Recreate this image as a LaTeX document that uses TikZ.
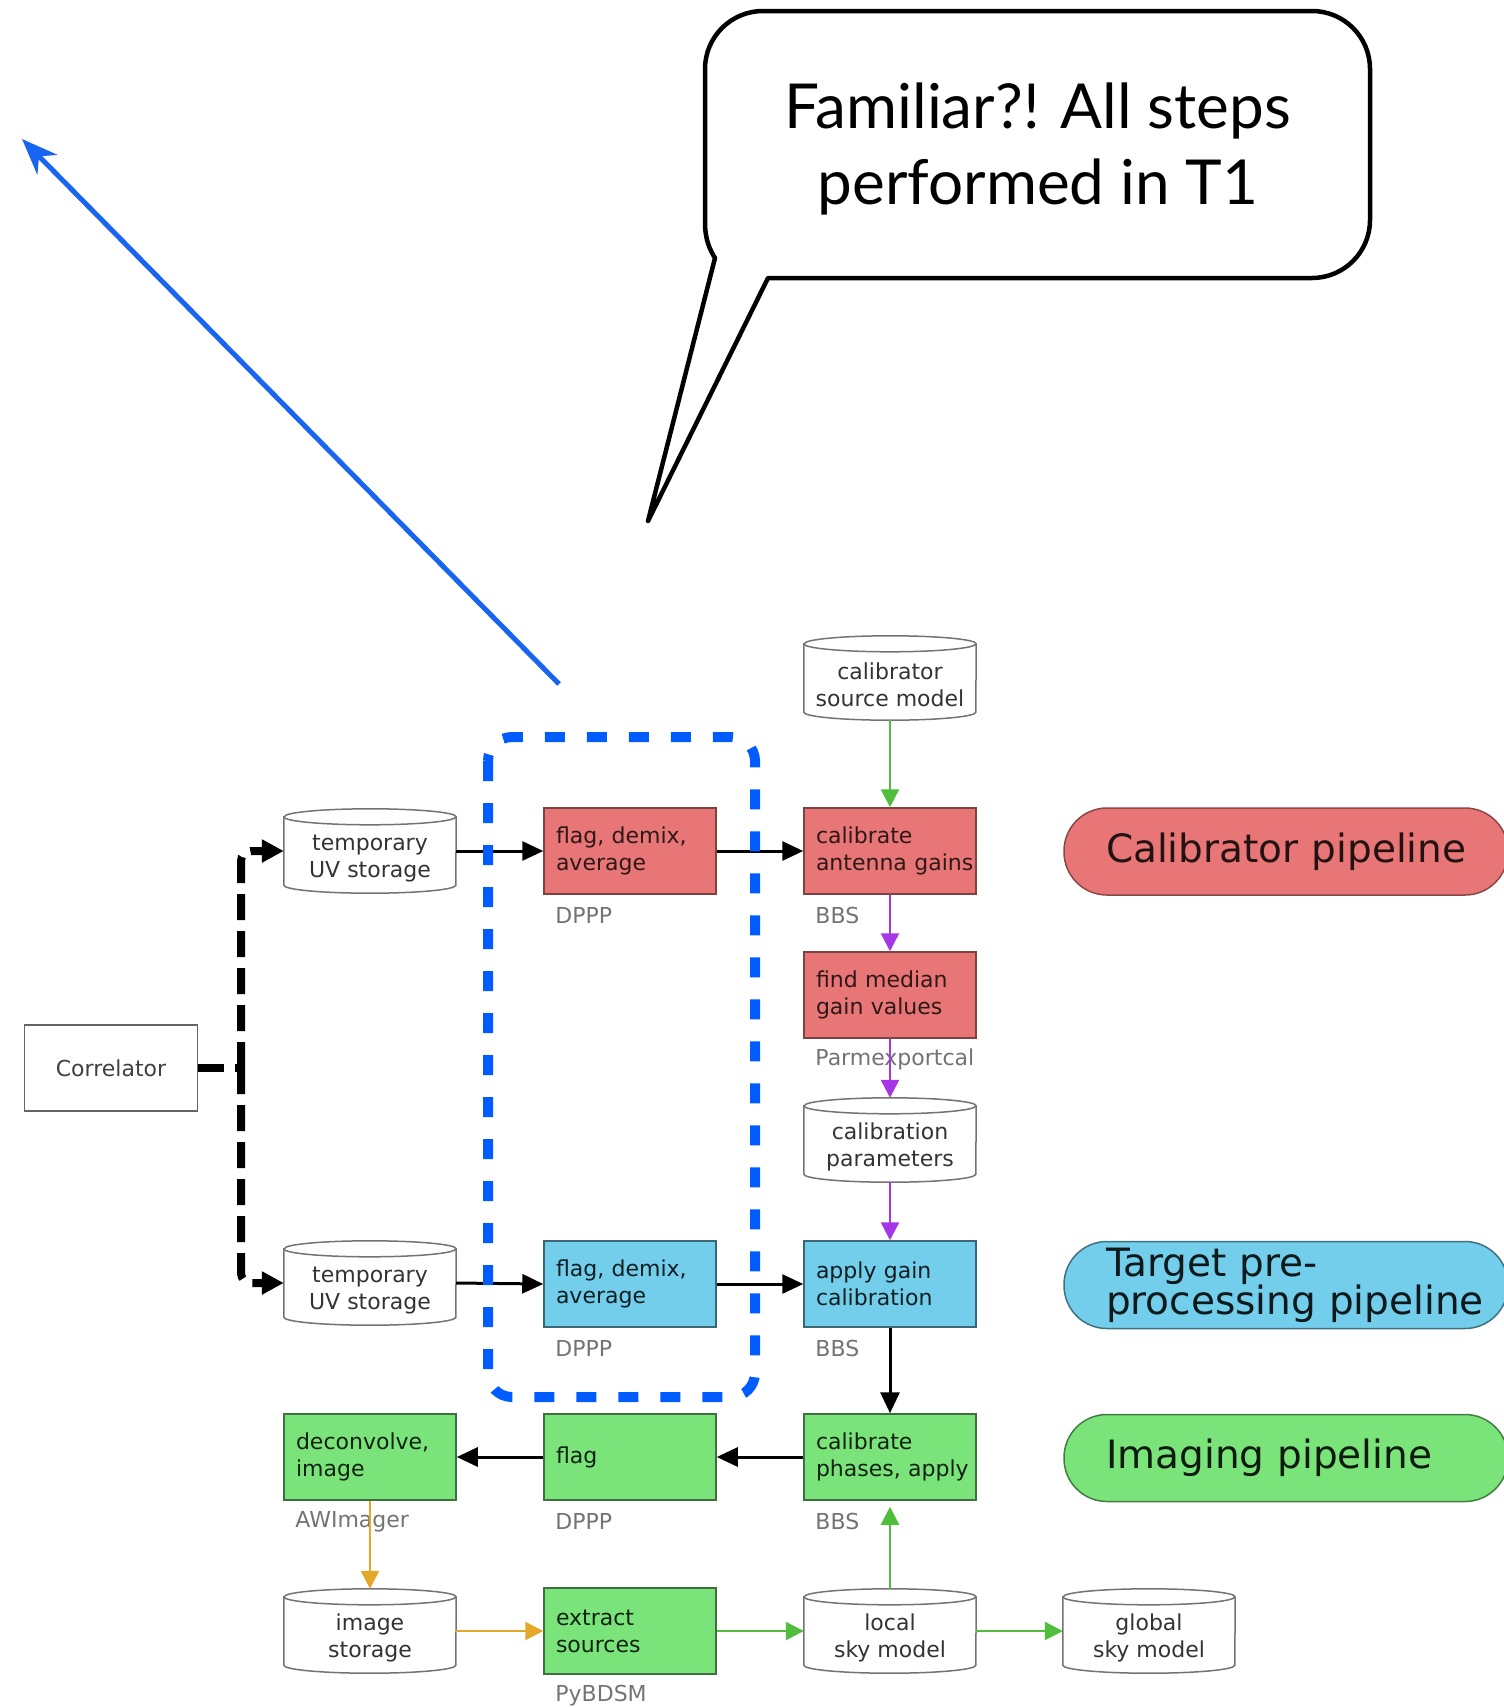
\documentclass[tikz,border=0pt]{standalone}
\usepackage{fontspec}
\setmainfont{DejaVu Sans}
\newfontfamily\bubblefont{Lato}
\usetikzlibrary{arrows.meta,shapes.geometric,calc}

\definecolor{calred}{RGB}{233,118,118}
\definecolor{tgtblue}{RGB}{115,206,235}
\definecolor{imggreen}{RGB}{122,228,122}
\definecolor{flowgreen}{RGB}{80,190,60}
\definecolor{flowpurple}{RGB}{165,55,230}
\definecolor{floworange}{RGB}{228,168,40}
\definecolor{markblue}{RGB}{0,92,255}
\definecolor{arrowblue}{RGB}{25,100,240}

\tikzset{
  boxtext/.style={font=\fontsize{22}{27}\selectfont},
  stepbox/.style={boxtext, rectangle, minimum width=172pt, minimum height=86pt,
    line width=1.5pt, inner xsep=12pt, inner ysep=0pt, text width=148pt, align=left},
  redbox/.style={stepbox, fill=calred, draw=calred!55!black, text=calred!20!black},
  bluebox/.style={stepbox, fill=tgtblue, draw=tgtblue!50!black, text=tgtblue!15!black},
  greenbox/.style={stepbox, fill=imggreen, draw=imggreen!50!black, text=imggreen!15!black},
  store/.style={boxtext, rectangle, minimum width=172pt, minimum height=84pt,
    inner sep=0pt, align=center, text=black!80},
  toolname/.style={boxtext, anchor=west, inner sep=0pt, text=black!55},
  pill/.style={rectangle, rounded corners=43pt, minimum width=444pt, minimum height=87pt,
    line width=1.5pt, inner xsep=42pt, inner ysep=0pt, text width=360pt, align=left,
    font=\fontsize{39}{38}\selectfont},
  flow/.style={line width=3pt, -{Triangle[length=21pt,width=19pt]}},
  cflow/.style={line width=2.5pt, -{Triangle[length=18pt,width=18pt]}},
  dashlink/.style={line width=8pt, dash pattern=on 26pt off 11pt, rounded corners=10pt},
  dashtip/.style={dashlink, -{Triangle[length=22pt,width=22pt]}},
}

% outline of a storage cylinder around a named node
\newcommand\cylout[1]{%
  \draw[black!55, line width=1.5pt]
    ([yshift=-8pt]#1.north west) -- ([yshift=8pt]#1.south west)
    arc[start angle=180, end angle=360, x radius=86pt, y radius=8pt]
    -- ([yshift=-8pt]#1.north east)
    arc[start angle=0, end angle=180, x radius=86pt, y radius=8pt] -- cycle;
  \draw[black!55, line width=1.5pt]
    ([yshift=-8pt]#1.north west)
    arc[start angle=180, end angle=360, x radius=86pt, y radius=8pt];
}
% label text of a cylinder, set a little below the node centre
\newcommand\cyl[1]{\rule{0pt}{30pt}#1}

\begin{document}
\begin{tikzpicture}[x=1pt,y=1pt]
\useasboundingbox (0,0) rectangle (1504,-1708);

% speech bubble
\draw[line width=4.5pt, line join=round]
  (768,-278) -- (1312,-278) arc[start angle=270, end angle=360, radius=58pt]
  -- (1370,-69) arc[start angle=0, end angle=90, radius=58pt]
  -- (763,-11) arc[start angle=90, end angle=180, radius=58pt]
  -- (705,-222) .. controls (705,-240) and (710,-250) .. (715,-258)
  -- (648,-521) -- cycle;
\node[font=\bubblefont\fontsize{62}{76}\selectfont, align=center, anchor=base]
  (bubble-text) at (1038,-204) {Familiar?! All steps\\performed in T1};

% pointer arrow
\coordinate (ptr-start) at (559,-684);
\coordinate (ptr-end) at (22,-139);
\draw[arrowblue, line width=5pt, -{Stealth[length=36pt,width=28pt]}] (ptr-start) -- (ptr-end);

% correlator and storage
\node[boxtext, rectangle, draw=black!60, line width=1.5pt, minimum width=173pt,
  minimum height=86pt, text=black!75] (corr) at (111,-1068) {Correlator};
\node[store] (st1) at (370,-851) {\cyl{temporary}\\UV storage};
\node[store] (st2) at (370,-1283) {\cyl{temporary}\\UV storage};
\cylout{st1}
\cylout{st2}

% calibrator pipeline
\node[redbox] (fd1) at (630,-851) {flag, demix,\\average};
\node[redbox] (cag) at (890,-851) {calibrate\\\mbox{antenna gains}};
\node[store] (csm) at (890,-678) {\cyl{calibrator}\\source model};
\cylout{csm}
\node[redbox] (fmg) at (890,-995) {find median\\gain values};
\node[store] (cpar) at (890,-1140) {\cyl{calibration}\\parameters};
\cylout{cpar}

% target pre-processing pipeline
\node[bluebox] (fd2) at (630,-1284) {flag, demix,\\average};
\node[bluebox] (agc) at (890,-1284) {apply gain\\calibration};

% imaging pipeline
\node[greenbox] (cpa) at (890,-1457) {calibrate\\\mbox{phases, apply}};
\node[greenbox] (flg) at (630,-1457) {flag};
\node[greenbox] (dci) at (370,-1457) {deconvolve,\\image};
\node[store] (ist) at (370,-1631) {\cyl{image}\\storage};
\node[greenbox] (exs) at (630,-1631) {extract\\sources};
\node[store] (lsm) at (890,-1631) {\cyl{local}\\sky model};
\node[store] (gsm) at (1149,-1631) {\cyl{global}\\sky model};
\cylout{ist}
\cylout{lsm}
\cylout{gsm}

% tool names
\node[toolname] (t-fd1) at ([xshift=12pt,yshift=-21pt]fd1.south west) {DPPP};
\node[toolname] (t-cag) at ([xshift=12pt,yshift=-21pt]cag.south west) {BBS};
\node[toolname] (t-fmg) at ([xshift=12pt,yshift=-21pt]fmg.south west) {Parmexportcal};
\node[toolname] (t-fd2) at ([xshift=12pt,yshift=-21pt]fd2.south west) {DPPP};
\node[toolname] (t-agc) at ([xshift=12pt,yshift=-21pt]agc.south west) {BBS};
\node[toolname] (t-dci) at ([xshift=12pt,yshift=-21pt]dci.south west) {AWImager};
\node[toolname] (t-flg) at ([xshift=12pt,yshift=-21pt]flg.south west) {DPPP};
\node[toolname] (t-cpa) at ([xshift=12pt,yshift=-21pt]cpa.south west) {BBS};
\node[toolname] (t-exs) at ([xshift=12pt,yshift=-21pt]exs.south west) {PyBDSM};

% pipeline legend
\node[pill, fill=calred, draw=calred!60!black, text=calred!15!black] (p-cal) at (1286,-851.5)
  {\mbox{Calibrator pipeline}};
\node[pill, fill=tgtblue, draw=tgtblue!55!black, text=tgtblue!12!black] (p-tgt) at (1286,-1285)
  {Target pre-\\\mbox{processing pipeline}};
\node[pill, fill=imggreen, draw=imggreen!55!black, text=imggreen!12!black] (p-img) at (1286,-1458)
  {\mbox{Imaging pipeline}};

% connectors
\coordinate (split) at (241,-1068);
\draw[dashlink] (corr.east) -- (split);
\draw[dashtip] (split) |- (st1.west);
\draw[dashtip] (split) |- (st2.west);
\draw[flow] (st1.east) -- (fd1.west);
\draw[flow] (fd1.east) -- (cag.west);
\draw[flow] (st2.east) -- (fd2.west);
\draw[flow] (fd2.east) -- (agc.west);
\draw[cflow, flowgreen] (csm.south) -- (cag.north);
\draw[cflow, flowpurple] (cag.south) -- (fmg.north);
\draw[cflow, flowpurple] (fmg.south) -- (cpar.north);
\draw[cflow, flowpurple] (cpar.south) -- (agc.north);
\draw[flow] (agc.south) -- (cpa.north);
\draw[flow] (cpa.west) -- (flg.east);
\draw[flow] (flg.west) -- (dci.east);
\draw[cflow, floworange] (dci.south) -- (ist.north);
\draw[cflow, floworange] (ist.east) -- (exs.west);
\draw[cflow, flowgreen] (exs.east) -- (lsm.west);
\draw[cflow, flowgreen] (lsm.north) -- ([yshift=-6pt]cpa.south);
\draw[cflow, flowgreen] (lsm.east) -- (gsm.west);

% highlighted steps
\draw[markblue, line width=10pt, dash pattern=on 20pt off 22pt, rounded corners=24pt]
  (488,-737) rectangle (755,-1397);
\end{tikzpicture}
\end{document}
